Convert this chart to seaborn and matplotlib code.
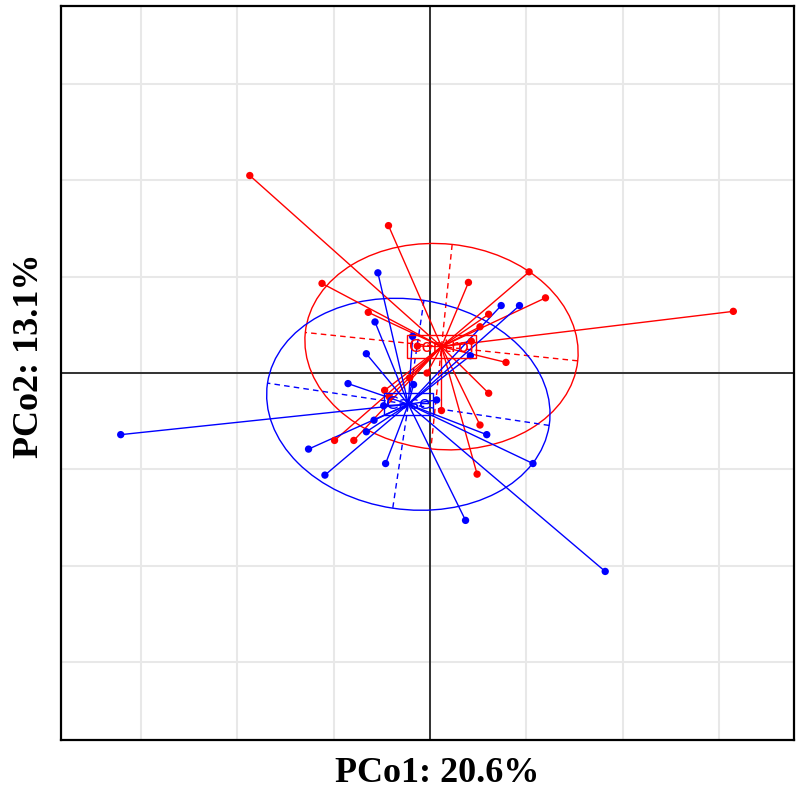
import numpy as np
import pandas as pd
import seaborn as sns
import matplotlib.pyplot as plt
from matplotlib.patches import Ellipse

# Coordenadas PCoA (unidad = una celda de la rejilla)
grupos = ["Control", "Case"]
colores = {"Control": "#FF0000", "Case": "#0000FF"}

control_x = [-1.87, -0.43, -1.12, -0.64, 1.03, 0.40, 1.20, 3.15, 0.61, 0.52, 0.43, 0.79,
             0.61, 0.52, 0.49, 0.12, -0.03, -0.13, -0.21, -0.47, -0.42, -0.99, -0.79]
control_y = [2.05, 1.53, 0.93, 0.63, 1.05, 0.94, 0.78, 0.64, 0.61, 0.48, 0.33, 0.11,
             -0.21, -0.54, -1.05, -0.39, 0.00, 0.28, -0.05, -0.18, -0.25, -0.70, -0.70]

case_x = [-3.21, -0.54, -0.57, -0.66, -0.85, -0.48, -0.58, -0.66, -1.26, -0.46, -1.09,
          0.74, 0.93, 0.42, 0.07, 0.59, 1.07, 0.37, 1.82, -0.18, -0.17]
case_y = [-0.64, 1.04, 0.53, 0.20, -0.11, -0.34, -0.49, -0.61, -0.79, -0.94, -1.06,
          0.70, 0.70, 0.18, -0.28, -0.64, -0.94, -1.53, -2.06, 0.38, -0.12]

ejes = ["PCo1: 20.6%", "PCo2: 13.1%"]
cellipse = 1.45

df = pd.concat([
    pd.DataFrame({"x": control_x, "y": control_y, "grupo": "Control"}),
    pd.DataFrame({"x": case_x, "y": case_y, "grupo": "Case"}),
], ignore_index=True)

sns.set_style("white")

fig = plt.figure(figsize=(8, 7.92), dpi=100)
ax = fig.add_axes([61 / 800, 52 / 792, 733 / 800, 734 / 792])
ax.set_xlim(-3.83, 3.78)
ax.set_ylim(-3.81, 3.81)

# rejilla y ejes centrales
for v in range(-3, 4):
    ax.axvline(v, color="#E8E8E8", lw=1.5, zorder=0)
    ax.axhline(v, color="#E8E8E8", lw=1.5, zorder=0)
ax.axvline(0, color="black", lw=1.1, zorder=1)
ax.axhline(0, color="black", lw=1.1, zorder=1)

for g in grupos:
    sub = df[df["grupo"] == g]
    c = colores[g]
    mx, my = sub["x"].mean(), sub["y"].mean()

    # elipse de inercia (tipo ade4 s.class)
    cov = np.cov(sub["x"], sub["y"], ddof=0)
    vals, vecs = np.linalg.eigh(cov)
    radios = cellipse * np.sqrt(vals)
    ang = np.degrees(np.arctan2(vecs[1, 1], vecs[0, 1]))
    ax.add_patch(Ellipse((mx, my), 2 * radios[1], 2 * radios[0], angle=ang,
                         fill=False, color=c, lw=1.0, zorder=2))
    for k in range(2):
        dx, dy = vecs[0, k] * radios[k], vecs[1, k] * radios[k]
        ax.plot([mx - dx, mx + dx], [my - dy, my + dy], color=c, lw=1.0,
                ls=(0, (4, 3)), zorder=2)

    # estrellas
    for px, py in zip(sub["x"], sub["y"]):
        ax.plot([mx, px], [my, py], color=c, lw=1.0, zorder=3)

    ax.text(mx, my, g, color=c, fontsize=13, ha="center", va="center", zorder=5,
            bbox=dict(boxstyle="square,pad=0.12", fc="none", ec=c, lw=1.0))

sns.scatterplot(data=df, x="x", y="y", hue="grupo", palette=colores, s=28,
                edgecolor="none", legend=False, ax=ax, zorder=4)

ax.set_xticks([])
ax.set_yticks([])
ax.set_xlabel("")
ax.set_ylabel("")
for s in ax.spines.values():
    s.set_color("black")
    s.set_linewidth(1.6)

fig.text(437 / 800, 1 - 773 / 792, ejes[0], ha="center", va="center", color="black",
         fontsize=26, fontweight="bold", family="Liberation Serif")
fig.text(30 / 800, 1 - 356 / 792, ejes[1], ha="center", va="center", rotation=90,
         color="black", fontsize=26, fontweight="bold", family="Liberation Serif")

plt.savefig("out.png", dpi=100)
plt.close()
